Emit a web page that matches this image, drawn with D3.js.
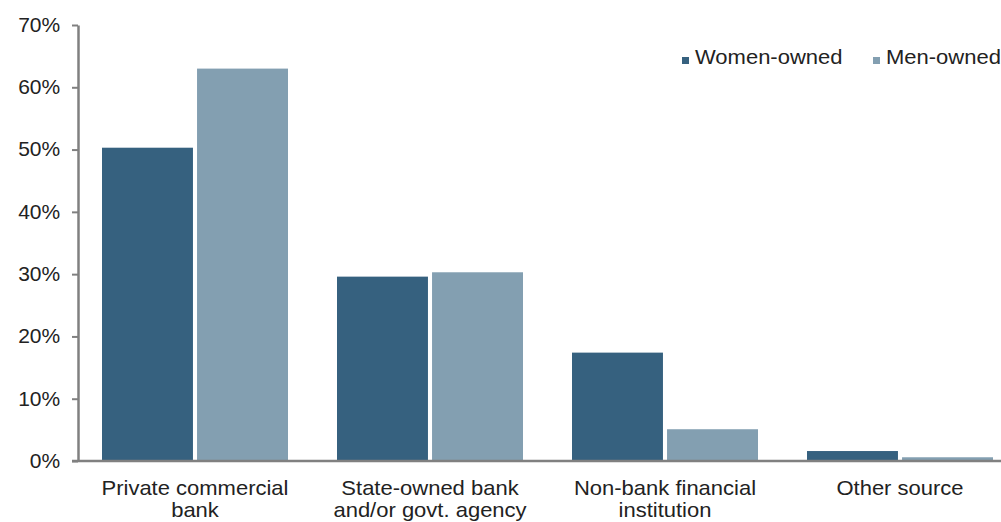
<!DOCTYPE html>
<html><head><meta charset="utf-8">
<script src="https://cdn.jsdelivr.net/npm/d3@7"></script>
<style>body{margin:0;background:#fff}svg{display:block}</style>
</head><body>
<svg id="c" width="1001" height="522"></svg>
<script>
const categories = [["Private commercial","bank"],["State-owned bank","and/or govt. agency"],["Non-bank financial","institution"],["Other source"]];
const series = ["Women-owned","Men-owned"];
const women = [50.3, 29.6, 17.4, 1.6];
const men = [63.0, 30.3, 5.1, 0.6];
const yTicks = [0,10,20,30,40,50,60,70];
const colors = ["#36617f","#839fb1"];

const svg = d3.select("#c");
const font = "'Liberation Sans', Arial, sans-serif";
const y = d3.scaleLinear().domain([0,70]).range([461,25]);
const x = d3.scaleBand().domain(d3.range(categories.length)).range([77.5,1017.5]).paddingInner(0).paddingOuter(0);
const xs = d3.scaleBand().domain(series).range([24.5, 210.5]).paddingInner(0.043);

const data = categories.map((c,i)=>({i, vals:[women[i], men[i]]}));
const g = svg.append("g");
data.forEach(d=>{
  d.vals.forEach((v,k)=>{
    g.append("rect")
      .attr("x", x(d.i)+xs(series[k]))
      .attr("y", y(v))
      .attr("width", xs.bandwidth())
      .attr("height", y(0)-y(v))
      .attr("fill", colors[k]);
  });
});

// y axis
const ya = svg.append("g").attr("transform","translate(78,0)")
  .call(d3.axisLeft(y).tickValues(yTicks).tickFormat(d=>d+"%").tickSize(6).tickSizeOuter(0).tickPadding(11));
ya.select(".domain").attr("stroke","#808080").attr("stroke-width",2.5);
ya.selectAll(".tick line").attr("stroke","#808080").attr("stroke-width",2);
ya.selectAll("text").attr("font-family",font).attr("font-size",20).attr("fill","#222")
  .attr("transform","scale(1.05,1)");

// x axis baseline
svg.append("line").attr("x1",72).attr("x2",1001).attr("y1",y(0)).attr("y2",y(0))
  .attr("stroke","#808080").attr("stroke-width",2.5);

// category labels
data.forEach(d=>{
  const cx = x(d.i)+x.bandwidth()/2;
  const t = svg.append("text").attr("transform",`translate(${cx},495) scale(1.1,1)`)
    .attr("text-anchor","middle").attr("font-family",font).attr("font-size",20).attr("fill","#222");
  categories[d.i].forEach((line,j)=>{
    t.append("tspan").attr("x",0).attr("y", j*22).text(line);
  });
});

// legend
const legX = [682, 873];
series.forEach((s,k)=>{
  svg.append("rect").attr("x",legX[k]).attr("y",57).attr("width",7).attr("height",7).attr("fill",colors[k]);
  svg.append("text").attr("transform",`translate(${legX[k]+13},64) scale(1.1,1)`)
    .attr("font-family",font).attr("font-size",20).attr("fill","#222").text(s);
});
</script>
</body></html>
